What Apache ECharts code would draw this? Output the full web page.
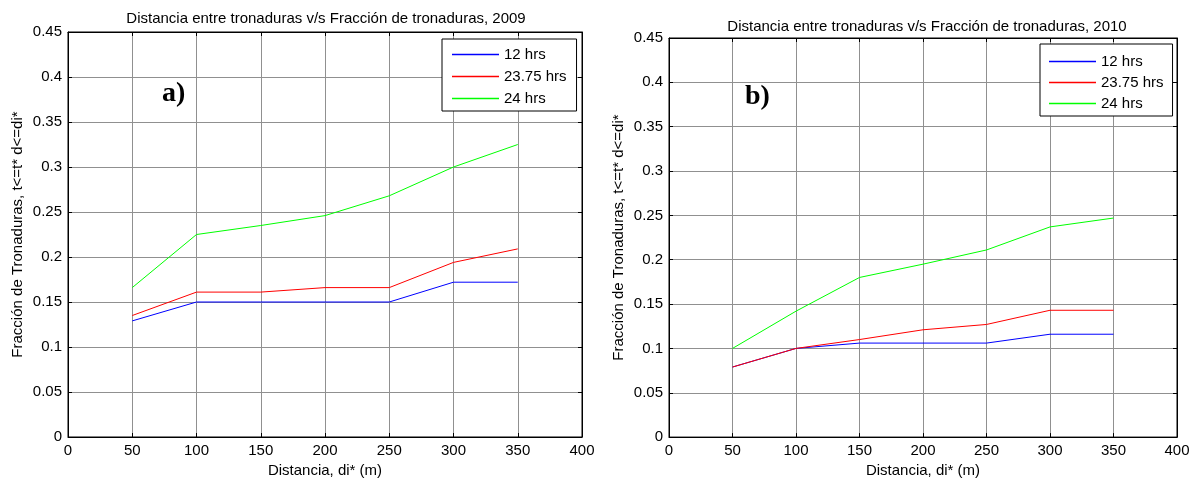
<!DOCTYPE html>
<html>
<head>
<meta charset="utf-8">
<script src="https://cdn.jsdelivr.net/npm/echarts@6/dist/echarts.min.js"></script>
<style>
html,body{margin:0;padding:0;background:#fff;}
#main{width:1195px;height:483px;}
</style>
</head>
<body>
<div id="main"></div>
<script>
// distancias (m)
var distancias = [50, 100, 150, 200, 250, 300, 350];
var seriesNames = ['12 hrs', '23.75 hrs', '24 hrs'];
var seriesColors = ['#0000ff', '#ff0000', '#00ff00'];

// 2009
var f2009_12 = [0.129, 0.150, 0.150, 0.150, 0.150, 0.172, 0.172];
var f2009_2375 = [0.135, 0.161, 0.161, 0.166, 0.166, 0.194, 0.209];
var f2009_24 = [0.166, 0.225, 0.235, 0.246, 0.268, 0.300, 0.325];

// 2010
var f2010_12 = [0.079, 0.100, 0.106, 0.106, 0.106, 0.116, 0.116];
var f2010_2375 = [0.079, 0.100, 0.110, 0.121, 0.127, 0.143, 0.143];
var f2010_24 = [0.100, 0.142, 0.180, 0.195, 0.211, 0.237, 0.247];

var titles = ['Distancia entre tronaduras v/s Fracción de tronaduras, 2009',
              'Distancia entre tronaduras v/s Fracción de tronaduras, 2010'];
var xName = 'Distancia, di* (m)';
var yName = 'Fracción de Tronaduras, t<=t* d<=di*';

var FONT = 'Liberation Sans';

function pares(ys){
	var out = [];
	for (var i = 0; i < distancias.length; i++) out.push([distancias[i], ys[i]]);
	return out;
}

var grids = [
	{left: 68, right: 613, top: 32, bottom: 46, show: true, borderColor: '#000', borderWidth: 1, backgroundColor: '#fff'},
	{left: 669, right: 18, top: 38, bottom: 44, show: true, borderColor: '#000', borderWidth: 1, backgroundColor: '#fff'}
];

var xAxes = [], yAxes = [];
[0, 1].forEach(function(g){
	xAxes.push({
		gridIndex: g, type: 'value', min: 0, max: 400, interval: 50,
		name: xName, nameLocation: 'middle', nameGap: 25,
		nameTextStyle: {fontFamily: FONT, fontSize: 15, color: '#000'},
		axisLine: {show: true, onZero: false, lineStyle: {color: '#000', width: 1}},
		axisTick: {show: true, inside: true, length: 4, lineStyle: {color: '#000'}},
		axisLabel: {fontFamily: FONT, fontSize: 15, color: '#000', margin: 6},
		splitLine: {show: true, lineStyle: {color: '#909090', width: 1}}
	});
	xAxes.push({
		gridIndex: g, type: 'value', min: 0, max: 400, interval: 50, position: 'top',
		axisLine: {show: true, onZero: false, lineStyle: {color: '#000'}},
		axisTick: {show: true, inside: true, length: 4, lineStyle: {color: '#000'}},
		axisLabel: {show: false}, splitLine: {show: false}
	});
	yAxes.push({
		gridIndex: g, type: 'value', min: 0, max: 0.45, interval: 0.05,
		name: yName, nameLocation: 'middle', nameGap: 43,
		nameTextStyle: {fontFamily: FONT, fontSize: 15, color: '#000'},
		axisLine: {show: true, onZero: false, lineStyle: {color: '#000', width: 1}},
		axisTick: {show: true, inside: true, length: 4, lineStyle: {color: '#000'}},
		axisLabel: {fontFamily: FONT, fontSize: 15, color: '#000', margin: 6,
			formatter: function(v){ return String(+v.toFixed(2)); }},
		splitLine: {show: true, lineStyle: {color: '#909090', width: 1}}
	});
	yAxes.push({
		gridIndex: g, type: 'value', min: 0, max: 0.45, interval: 0.05, position: 'right',
		axisLine: {show: true, onZero: false, lineStyle: {color: '#000'}},
		axisTick: {show: true, inside: true, length: 4, lineStyle: {color: '#000'}},
		axisLabel: {show: false}, splitLine: {show: false}
	});
});

var datos = [[f2009_12, f2009_2375, f2009_24], [f2010_12, f2010_2375, f2010_24]];
var series = [];
datos.forEach(function(grupo, g){
	grupo.forEach(function(ys, k){
		series.push({
			name: seriesNames[k], type: 'line', xAxisIndex: g * 2, yAxisIndex: g * 2,
			data: pares(ys), symbol: 'none', silent: true, animation: false,
			lineStyle: {color: seriesColors[k], width: 1},
			itemStyle: {color: seriesColors[k]}
		});
	});
});

var legendBase = {
	orient: 'vertical', icon: 'rect', itemWidth: 47, itemHeight: 1.5,
	backgroundColor: '#fff', borderColor: '#000', borderWidth: 1,
	textStyle: {fontFamily: FONT, fontSize: 15, color: '#000', padding: [0, 0, 0, 0]},
	data: seriesNames
};

var dom = document.getElementById('main');
var myChart = echarts.init(dom);
var option = {
	animation: false,
	textStyle: {fontFamily: FONT},
	title: [
		{text: titles[0], left: 321, top: 6, textAlign: 'center',
		 textStyle: {fontFamily: FONT, fontSize: 15, fontWeight: 'normal', color: '#000'}},
		{text: titles[1], left: 922, top: 14, textAlign: 'center',
		 textStyle: {fontFamily: FONT, fontSize: 15, fontWeight: 'normal', color: '#000'}}
	],
	legend: [
		Object.assign({}, legendBase, {left: 442, top: 39, itemGap: 7, padding: [8, 10, 5, 10]}),
		Object.assign({}, legendBase, {left: 1040, top: 44, itemGap: 6, padding: [10, 9, 5, 9]})
	],
	grid: grids,
	xAxis: xAxes,
	yAxis: yAxes,
	graphic: [
		{type: 'text', left: 162, top: 80, style: {text: 'a)', font: 'bold 28px "Liberation Serif"', fill: '#000'}},
		{type: 'text', left: 745, top: 83, style: {text: 'b)', font: 'bold 28px "Liberation Serif"', fill: '#000'}}
	],
	series: series
};
myChart.setOption(option, true);
</script>
</body>
</html>
